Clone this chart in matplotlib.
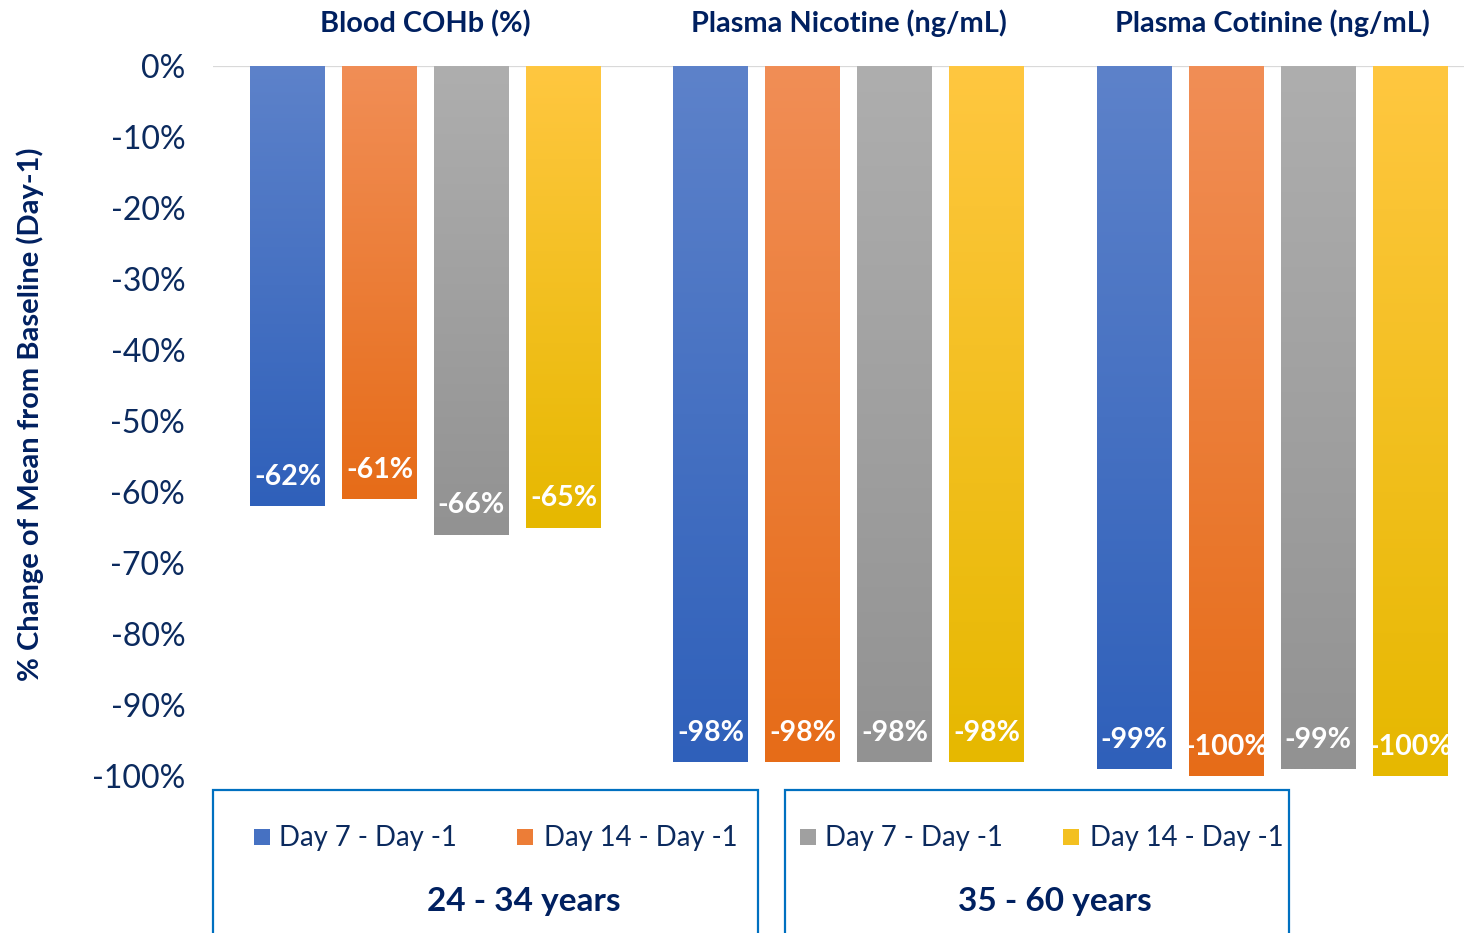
import numpy as np
import matplotlib
matplotlib.use("Agg")
import matplotlib.pyplot as plt
from matplotlib.colors import to_rgb
from matplotlib.patches import Rectangle
from matplotlib.transforms import blended_transform_factory

# ---- data -----------------------------------------------------------------
panels = ["Blood COHb (%)", "Plasma Nicotine (ng/mL)", "Plasma Cotinine (ng/mL)"]
series_names = ["Day 7 - Day -1", "Day 14 - Day -1", "Day 7 - Day -1", "Day 14 - Day -1"]
age_groups = ["24 - 34 years", "35 - 60 years"]
young_day7 = [-62, -98, -99]
young_day14 = [-61, -98, -100]
older_day7 = [-66, -98, -99]
older_day14 = [-65, -98, -100]
yticks = list(range(0, -101, -10))

series = [young_day7, young_day14, older_day7, older_day14]
# gradient (top, bottom) colours per series
grad = [("#5D82CA", "#2F60BA"),
        ("#F18E56", "#E66C18"),
        ("#AEAEAE", "#929292"),
        ("#FFC740", "#E6B800")]

NAVY = "#0B2A5E"
TITLE_NAVY = "#002060"
FONT = ["Lato", "DejaVu Sans"]
plt.rcParams["font.family"] = FONT

W, H = 1464, 933
fig = plt.figure(figsize=(W / 100, H / 100), dpi=100)


def fx(px):
    return px / W


def fy(py):
    return 1 - py / H


ax = fig.add_axes([fx(213), fy(776), fx(1464) - fx(213), fy(66) - fy(776)])

x = np.arange(len(panels))
offsets = [-0.326, -0.1086, 0.1086, 0.326]
width = 0.177

for vals, off, (top, bot) in zip(series, offsets, grad):
    bars = ax.bar(x + off, vals, width, color=bot, zorder=2)
    ramp = np.linspace(0, 1, 256)[:, None, None]
    img = (1 - ramp) * np.array(to_rgb(top)) + ramp * np.array(to_rgb(bot))
    for b, v in zip(bars, vals):
        x0 = b.get_x()
        ax.imshow(img, extent=(x0, x0 + b.get_width(), v, 0), aspect="auto",
                  origin="upper", zorder=3, interpolation="bilinear")
        ax.text(x0 + b.get_width() / 2, v + 4.1, f"{v}%", ha="center", va="center",
                color="white", fontsize=20.5, fontweight="bold", zorder=5, clip_on=False)

ax.set_xlim(-0.502, 2.4536)
ax.set_ylim(-100, 0)
ax.set_yticks(yticks)
ax.set_yticklabels([f"{t}%" for t in yticks])
ax.set_xticks([])
ax.tick_params(axis="y", length=0, pad=20, labelsize=23, labelcolor=NAVY)
for s in ax.spines.values():
    s.set_visible(False)
ax.axhline(0, color="#D9D9D9", lw=1.6, zorder=1)

# panel titles
tr = blended_transform_factory(ax.transData, fig.transFigure)
for xi, name in zip(x, panels):
    ax.text(xi, fy(23.5), name, transform=tr, ha="center", va="center",
            fontsize=20.8, fontweight="bold", color=TITLE_NAVY)

fig.text(fx(30), fy(414), "% Change of Mean from Baseline (Day-1)", rotation=90,
         ha="center", va="center", fontsize=21, fontweight="bold", color=TITLE_NAVY)

# grouped legend boxes
boxes = [(213, 758), (785, 1289)]
group_label_x = [524, 1055]
entries = [[(262, 279), (525, 544)], [(808, 825), (1071, 1090)]]
for gi, ((bx0, bx1), ents, label) in enumerate(zip(boxes, entries, age_groups)):
    fig.add_artist(Rectangle((fx(bx0), fy(950)), fx(bx1) - fx(bx0), fy(790) - fy(950),
                             transform=fig.transFigure, fill=False,
                             edgecolor="#0070C0", lw=1.6, clip_on=False))
    for ei, (sq, tx) in enumerate(ents):
        si = gi * 2 + ei
        top, bot = grad[si]
        mid = tuple((np.array(to_rgb(top)) + np.array(to_rgb(bot))) / 2)
        fig.add_artist(Rectangle((fx(sq - 8), fy(845)), fx(16), fy(829) - fy(845),
                                 transform=fig.transFigure, facecolor=mid, edgecolor="none"))
        fig.text(fx(tx), fy(838), series_names[si], ha="left", va="center",
                 fontsize=19.8, color=NAVY)
    fig.text(fx(group_label_x[gi]), fy(902), label, ha="center", va="center",
             fontsize=24, fontweight="bold", color=TITLE_NAVY)

fig.savefig("out.png", dpi=100)
